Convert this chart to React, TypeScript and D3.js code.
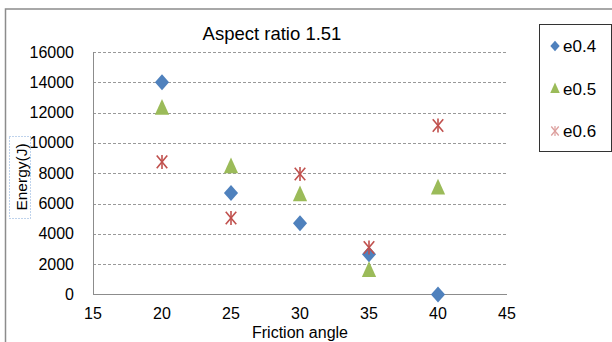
import React from "react";
import * as d3 from "d3";

const angles = [20, 25, 30, 35, 40];
const e04 = [14000, 6700, 4700, 2650, 0];
const e05 = [12300, 8450, 6600, 1600, 7050];
const e06 = [8750, 5050, 7950, 3100, 11150];
const seriesNames = ["e0.4", "e0.5", "e0.6"];
const xTicks = [15, 20, 25, 30, 35, 40, 45];
const yTicks = [0, 2000, 4000, 6000, 8000, 10000, 12000, 14000, 16000];

const colors = ["#4F81BD", "#9BBB59", "#C0504D"];
const font = "'Liberation Sans', Arial, sans-serif";

function Marker({ kind, x, y, s, light }: { kind: number; x: number; y: number; s: number; light?: boolean }) {
  if (kind === 0) {
    const w = s * 0.47;
    const h = s * 0.53;
    return <path d={`M${x},${y - h}L${x + w},${y}L${x},${y + h}L${x - w},${y}Z`} fill={colors[0]} />;
  }
  if (kind === 1) {
    const h = s;
    const w = s * 0.95;
    return (
      <path
        d={`M${x},${y - h * 0.6}L${x + w / 2},${y + h * 0.45}L${x - w / 2},${y + h * 0.45}Z`}
        fill={colors[1]}
      />
    );
  }
  const r = s / 2;
  return (
    <g stroke={colors[2]} strokeWidth={light ? 1.2 : 1.6} fill="none" opacity={light ? 0.55 : 1}>
      <line x1={x - r * 0.75} y1={y - r * 0.9} x2={x + r * 0.75} y2={y + r * 0.9} />
      <line x1={x + r * 0.75} y1={y - r * 0.9} x2={x - r * 0.75} y2={y + r * 0.9} />
      <line x1={x} y1={y - r} x2={x} y2={y + r} />
    </g>
  );
}

export default function App() {
  const x = d3.scaleLinear().domain([15, 45]).range([93, 507]);
  const y = d3.scaleLinear().domain([0, 16000]).range([294.5, 52]);
  const data = [e04, e05, e06];
  return (
    <svg
      width={612}
      height={342}
      style={{ position: "absolute", left: 0, top: 0, background: "#fff" }}
      fontFamily={font}
    >
      <rect x={5.5} y={9} width={620} height={350} fill="#fff" stroke="#8c8c8c" strokeWidth={1.5} />
      <text x={272} y={40} fontSize={18.5} textAnchor="middle" fill="#000">
        Aspect ratio 1.51
      </text>
      {yTicks.slice(1).map((t) => (
        <line
          key={t}
          x1={93}
          x2={507}
          y1={Math.round(y(t)) + 0.5}
          y2={Math.round(y(t)) + 0.5}
          stroke="#999"
          strokeDasharray="3,2"
        />
      ))}
      <line x1={93.5} x2={93.5} y1={52} y2={295} stroke="#8c8c8c" />
      <line x1={93} x2={507} y1={294.5} y2={294.5} stroke="#8c8c8c" />
      {yTicks.map((t) => (
        <text key={t} x={74} y={y(t) + 5.5} fontSize={16} textAnchor="end" fill="#000">
          {t}
        </text>
      ))}
      {xTicks.map((t) => (
        <text key={t} x={x(t)} y={319} fontSize={16} textAnchor="middle" fill="#000">
          {t}
        </text>
      ))}
      <text x={300} y={338} fontSize={16} textAnchor="middle" fill="#000">
        Friction angle
      </text>
      <rect x={9.5} y={136.5} width={21} height={82} fill="none" stroke="#7fa7d9" strokeDasharray="1,2" />
      <text
        transform={`translate(27,177) rotate(-90)`}
        fontSize={15.5}
        textAnchor="middle"
        fill="#000"
      >
        Energy(J)
      </text>
      {data.map((vals, si) =>
        vals.map((v, i) => (
          <Marker key={`${si}-${i}`} kind={si} x={x(angles[i])} y={y(v)} s={si === 2 ? 14 : 15} />
        ))
      )}
      <rect x={539.5} y={24.5} width={72} height={127} fill="#fff" stroke="#333" strokeWidth={1} />
      {seriesNames.map((n, i) => (
        <g key={n}>
          <Marker kind={i} x={555} y={46 + i * 42.5} s={i === 0 ? 10 : 10} light={i === 2} />
          <text x={563} y={52 + i * 42.5} fontSize={17} fill="#000">
            {n}
          </text>
        </g>
      ))}
    </svg>
  );
}
